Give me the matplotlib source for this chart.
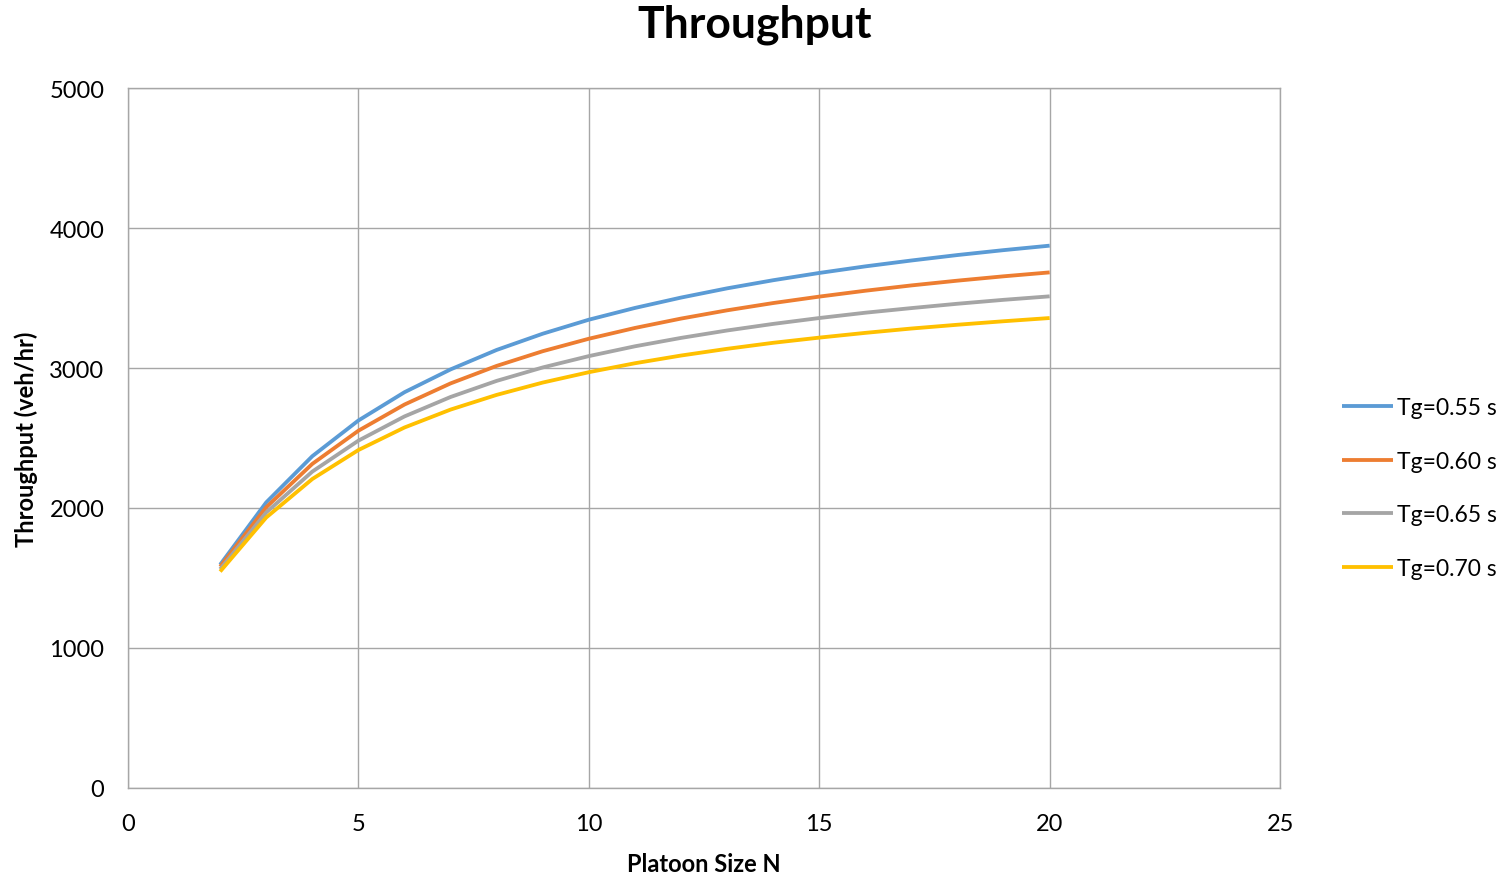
import matplotlib.pyplot as plt

plt.rcParams['font.family'] = ['Lato', 'DejaVu Sans']

# Platoon size
platoon_n = list(range(2, 21))

# Throughput (veh/hr), one list per time gap
tg_055 = [1595, 2040, 2370, 2625, 2827, 2990, 3129, 3245, 3345, 3429,
          3503, 3569, 3627, 3679, 3726, 3768, 3807, 3842, 3874]
tg_060 = [1581, 2005, 2315, 2552, 2739, 2890, 3015, 3120, 3209, 3286,
          3353, 3412, 3464, 3510, 3552, 3590, 3624, 3655, 3683]
tg_065 = [1563, 1968, 2260, 2481, 2654, 2793, 2908, 3004, 3085, 3155,
          3215, 3268, 3315, 3357, 3395, 3428, 3459, 3487, 3512]
tg_070 = [1546, 1932, 2207, 2414, 2575, 2703, 2808, 2896, 2970, 3034,
          3089, 3137, 3180, 3217, 3251, 3282, 3309, 3334, 3357]

series = [("Tg=0.55 s", tg_055, "#5B9BD5"),
          ("Tg=0.60 s", tg_060, "#ED7D31"),
          ("Tg=0.65 s", tg_065, "#A5A5A5"),
          ("Tg=0.70 s", tg_070, "#FFC000")]

fig = plt.figure(figsize=(15.09, 8.78), dpi=100)
ax = fig.add_axes([0.0848, 0.1014, 0.7635, 0.7972])

for label, vals, color in series:
    ax.plot(platoon_n, vals, color=color, linewidth=2.75, label=label,
            solid_capstyle='butt')

ax.set_xlim(0, 25)
ax.set_ylim(0, 5000)
ax.set_xticks(range(0, 26, 5))
ax.set_yticks(range(0, 5001, 1000))
ax.grid(True, color='#A6A6A6', linewidth=1)
ax.set_axisbelow(True)
for sp in ax.spines.values():
    sp.set_color('#A6A6A6')
    sp.set_linewidth(1)
ax.tick_params(length=0, labelsize=17)
ax.tick_params(axis='x', pad=18)
ax.tick_params(axis='y', pad=17)

ax.set_xlabel('Platoon Size N', fontsize=17, fontweight='bold', labelpad=13)
ax.set_ylabel('Throughput (veh/hr)', fontsize=17, fontweight='bold', labelpad=8)
fig.suptitle('Throughput', fontsize=32, fontweight='bold', y=0.995)

fig.legend(loc='center left', bbox_to_anchor=(0.8893, 0.443), frameon=False,
           fontsize=16.5, handlelength=2.22, handletextpad=0.2, labelspacing=1.42,
           borderpad=0, borderaxespad=0)

fig.savefig('out.png', dpi=100)
